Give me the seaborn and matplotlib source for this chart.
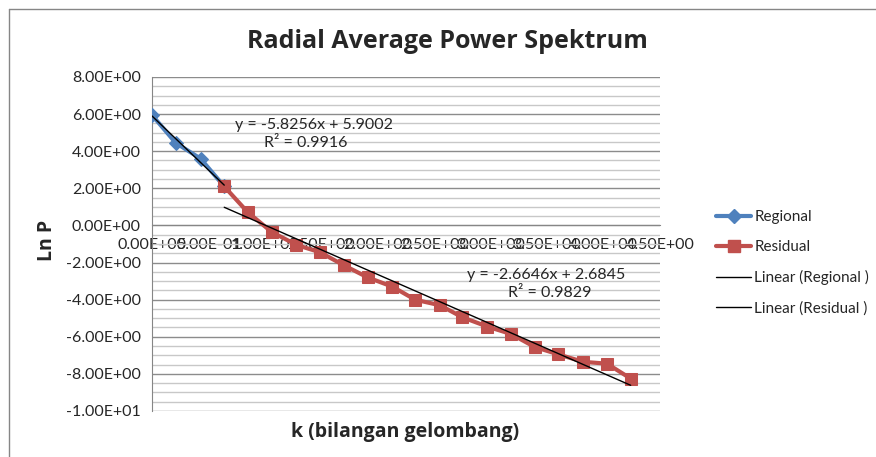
#%% imports
import matplotlib
matplotlib.use("Agg")
import matplotlib.pyplot as plt
import seaborn as sns
import pandas as pd
import numpy as np
from matplotlib.ticker import FuncFormatter, MultipleLocator
from matplotlib.lines import Line2D

#%% data
k_regional = [0.0, 0.21, 0.43, 0.64]
lnp_regional = [5.95, 4.45, 3.6, 2.1]

k_residual = [0.64, 0.85, 1.06, 1.28, 1.49, 1.70, 1.91, 2.13, 2.33,
              2.55, 2.75, 2.97, 3.18, 3.39, 3.60, 3.82, 4.03, 4.24]
lnp_residual = [2.1, 0.7, -0.35, -1.05, -1.45, -2.15, -2.8, -3.3, -4.0,
                -4.3, -4.95, -5.45, -5.85, -6.55, -6.95, -7.35, -7.45, -8.25]

# trendline coefficients shown on the chart
fit_regional = (-5.8256, 5.9002, 0.9916)
fit_residual = (-2.6646, 2.6845, 0.9829)

#%% style
sns.set_style("white")
plt.rcParams['font.family'] = ['Lato', 'DejaVu Sans']
bold_font = ['Open Sans', 'DejaVu Sans']
fs = 11.5

blue = "#4F81BD"
red = "#C0504D"

W, H = 876, 457
fig = plt.figure(figsize=(W / 100, H / 100), dpi=100)
ax = fig.add_axes([152 / W, 1 - 411 / H, (660 - 152) / W, (411 - 77) / H])

df_reg = pd.DataFrame({"k": k_regional, "lnp": lnp_regional})
df_res = pd.DataFrame({"k": k_residual, "lnp": lnp_residual})

sns.lineplot(data=df_reg, x="k", y="lnp", ax=ax, color=blue, lw=3,
             marker="D", markersize=7, markeredgecolor=blue, zorder=3)
sns.lineplot(data=df_res, x="k", y="lnp", ax=ax, color=red, lw=3,
             marker="s", markersize=9, markeredgecolor=red, zorder=3)

# linear trendlines over each series range
def trend(xs, fit):
    xs = np.array([min(xs), max(xs)])
    return pd.DataFrame({"k": xs, "lnp": fit[0] * xs + fit[1]})

sns.lineplot(data=trend(k_regional, fit_regional), x="k", y="lnp", ax=ax,
             color="black", lw=1, zorder=4)
sns.lineplot(data=trend(k_residual, fit_residual), x="k", y="lnp", ax=ax,
             color="black", lw=1, zorder=4)

# equations
ax.text(1.435, 5.39, "y = -5.8256x + 5.9002", ha="center", va="center", fontsize=fs)
ax.text(1.36, 4.42, "R² = 0.9916", ha="center", va="center", fontsize=fs)
ax.text(3.49, -2.69, "y = -2.6646x + 2.6845", ha="center", va="center", fontsize=fs)
ax.text(3.52, -3.66, "R² = 0.9829", ha="center", va="center", fontsize=fs)

#%% axes
ax.set_xlim(0, 4.5)
ax.set_ylim(-10, 8)
ax.yaxis.set_major_locator(MultipleLocator(2))
ax.yaxis.set_minor_locator(MultipleLocator(0.5))
ax.xaxis.set_major_locator(MultipleLocator(0.5))
fmt = FuncFormatter(lambda v, p: f"{v:.2E}")
ax.yaxis.set_major_formatter(fmt)
ax.xaxis.set_major_formatter(fmt)

ax.grid(which="major", axis="y", color="#8C8C8C", lw=1)
ax.grid(which="minor", axis="y", color="#C8C8C8", lw=1)
ax.grid(False, axis="x")
ax.set_axisbelow(True)

for s in ["top", "right"]:
    ax.spines[s].set_visible(False)
ax.spines["bottom"].set_position(("data", 0))
ax.spines["bottom"].set_color("#868686")
ax.spines["left"].set_color("#868686")
ax.tick_params(axis="both", which="major", direction="out", length=5,
               color="#868686", labelsize=fs, pad=3)
ax.tick_params(axis="x", pad=4)
ax.tick_params(axis="y", which="minor", left=False)

ax.set_xlabel("")
ax.set_ylabel("")
fig.text(405 / W, 1 - 432 / H, "k (bilangan gelombang)", ha="center", va="center",
         fontsize=14, fontweight="bold", family=bold_font)
fig.text(47 / W, 1 - 240 / H, "Ln P", ha="center", va="center", rotation=90,
         fontsize=14, fontweight="bold", family=bold_font)
fig.text(447 / W, 1 - 42 / H, "Radial Average Power Spektrum", ha="center", va="center",
         fontsize=18, fontweight="bold", family=bold_font)

#%% legend
handles = [
    Line2D([], [], color=blue, lw=3, marker="D", markersize=7),
    Line2D([], [], color=red, lw=3, marker="s", markersize=9),
    Line2D([], [], color="black", lw=1),
    Line2D([], [], color="black", lw=1),
]
labels = ["Regional", "Residual", "Linear (Regional )", "Linear (Residual )"]
fig.legend(handles, labels, loc="upper left", bbox_to_anchor=(716 / W, 1 - 210 / H),
           frameon=False, fontsize=11, handlelength=2.3, handletextpad=0.2,
           labelspacing=1.05, borderaxespad=0, borderpad=0)

# outer chart border (top and left visible)
fig.add_artist(Line2D([9 / W, 1], [1 - 9 / H, 1 - 9 / H], color="#868686", lw=1))
fig.add_artist(Line2D([9 / W, 9 / W], [1 - 9 / H, 0], color="#868686", lw=1))

fig.savefig("out.png", dpi=100)
